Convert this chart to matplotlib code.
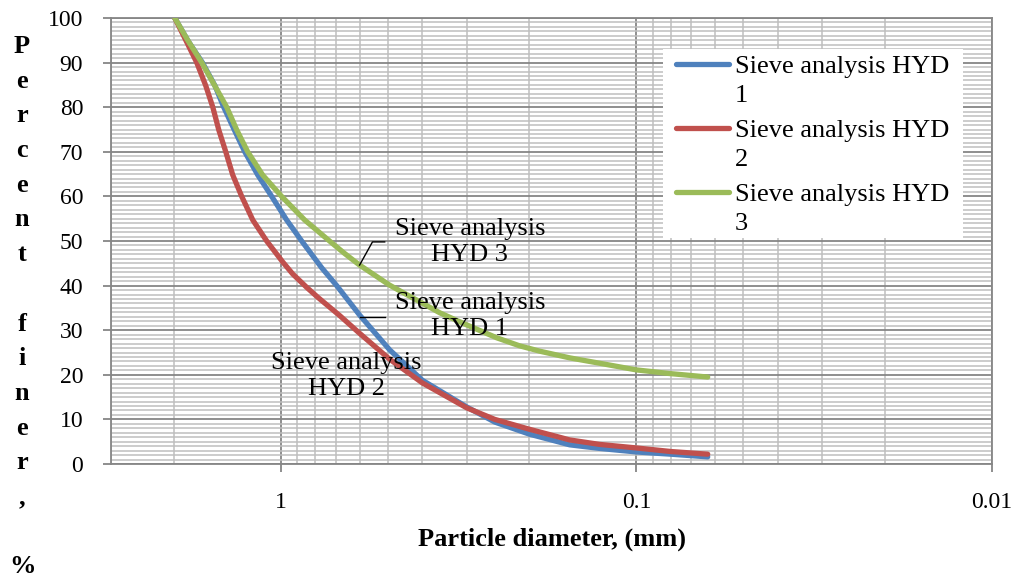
import matplotlib
matplotlib.use("Agg")
import matplotlib.pyplot as plt
from matplotlib.lines import Line2D
from matplotlib.patches import Rectangle
from matplotlib.ticker import MultipleLocator, FixedLocator, LogLocator, NullFormatter

plt.rcParams['font.family'] = ['Liberation Serif', 'DejaVu Serif']

# particle diameter (mm) and percent finer
d_hyd1 = [1.985, 1.82, 1.66, 1.53, 1.446, 1.35, 1.262, 1.160, 1.060, 0.962, 0.873, 0.767, 0.696,
          0.60, 0.494, 0.40, 0.30, 0.25, 0.20, 0.154, 0.127, 0.10, 0.08, 0.063]
p_hyd1 = [100, 94.8, 90, 84.8, 80, 74.9, 70, 64.8, 60, 54.7, 50, 44.0, 40,
          33.4, 25.6, 18.8, 12.8, 9.4, 6.7, 4.3, 3.5, 2.7, 2.2, 1.6]

d_hyd2 = [1.985, 1.837, 1.722, 1.624, 1.552, 1.493, 1.427, 1.364, 1.287, 1.198, 1.095, 0.987, 0.925,
          0.845, 0.787, 0.683, 0.60, 0.494, 0.40, 0.30, 0.25, 0.20, 0.154, 0.127, 0.10, 0.08, 0.063]
p_hyd2 = [100, 94.6, 90, 84.8, 80, 74.9, 70, 64.8, 60, 54.7, 50, 45.3, 42.6,
          39.6, 37.4, 33.3, 29.3, 23.5, 18.2, 12.6, 10.0, 7.8, 5.4, 4.4, 3.6, 2.8, 2.2]

d_hyd3 = [1.985, 1.825, 1.667, 1.532, 1.418, 1.329, 1.238, 1.124, 0.994, 0.856, 0.719, 0.661,
          0.60, 0.494, 0.357, 0.30, 0.247, 0.213, 0.187, 0.154, 0.127, 0.10, 0.081, 0.063]
p_hyd3 = [100, 95.0, 90, 84.8, 80, 74.9, 70, 64.8, 60, 54.7, 49.6, 47.2,
          44.6, 40.1, 33.9, 31.2, 28.3, 26.5, 25.3, 23.8, 22.6, 21.1, 20.3, 19.5]

series_names = ['Sieve analysis HYD\n1', 'Sieve analysis HYD\n2', 'Sieve analysis HYD\n3']
series_colors = ['#4F81BD', '#C0504D', '#9BBB59']
x_ticks = [1, 0.1, 0.01]
x_tick_labels = ['1', '0.1', '0.01']

W, H = 1023, 581
fig = plt.figure(figsize=(W / 100, H / 100), dpi=100)
ax = fig.add_axes([111 / W, 117 / H, 881 / W, 446 / H])


def px(x, y):
    # pixel position (from top left) -> figure fraction
    return x / W, 1 - y / H


ax.set_xscale('log')
ax.set_xlim(3.0, 0.01)
ax.set_ylim(0, 100)

# grid like the excel chart
ax.yaxis.set_major_locator(MultipleLocator(10))
ax.yaxis.set_minor_locator(MultipleLocator(1))
ax.xaxis.set_major_locator(FixedLocator(x_ticks))
ax.xaxis.set_minor_locator(LogLocator(base=10, subs=range(2, 10)))
ax.xaxis.set_minor_formatter(NullFormatter())
ax.set_xticklabels(x_tick_labels)

ax.grid(which='minor', color='#BEBEBE', linestyle='-', linewidth=1.1, zorder=0)
ax.grid(which='major', color='#868686', linestyle='-', linewidth=1.3, zorder=0)
ax.set_axisbelow(True)
for s in ax.spines.values():
    s.set_color('#868686')
    s.set_linewidth(1.3)

ax.tick_params(which='major', direction='out', length=6, width=1.3, color='#868686', labelsize=17)
ax.tick_params(axis='y', pad=14)
ax.tick_params(axis='x', pad=14)
ax.tick_params(which='minor', length=0)

for d, p, c in zip([d_hyd1, d_hyd2, d_hyd3], [p_hyd1, p_hyd2, p_hyd3], series_colors):
    ax.plot(d, p, color=c, linewidth=3.8, solid_capstyle='round', solid_joinstyle='round', zorder=3)

# data labels with leader lines
lbl = dict(ha='center', va='center', fontsize=19, linespacing=1.25, zorder=4)
ax.text(0.294, 49.8, 'Sieve analysis\nHYD 3', **lbl)
ax.plot([0.60, 0.552, 0.51], [44.6, 49.8, 49.8], color='black', linewidth=1, zorder=4)
ax.text(0.294, 33.2, 'Sieve analysis\nHYD 1', **lbl)
ax.plot([0.60, 0.51], [33.0, 33.0], color='black', linewidth=1, zorder=4)
ax.text(0.653, 19.7, 'Sieve analysis\nHYD 2', **lbl)

# legend box, drawn like excel's (handle beside the first line of a wrapped label)
x0, y0 = px(663, 238)
x1, y1 = px(963, 49)
fig.add_artist(Rectangle((x0, y0), x1 - x0, y1 - y0, transform=fig.transFigure,
                         facecolor='white', edgecolor='none', zorder=5))
for i, (name, c) in enumerate(zip(series_names, series_colors)):
    yh = 64 + i * 64
    xa, ya = px(676, yh)
    xb, _ = px(729, yh)
    fig.add_artist(Line2D([xa, xb], [ya, ya], transform=fig.transFigure, color=c,
                          linewidth=3.8, solid_capstyle='round', zorder=6))
    for j, part in enumerate(name.split('\n')):
        tx, ty = px(735, yh + 9 + j * 29)
        fig.text(tx, ty, part, ha='left', va='baseline', fontsize=19, zorder=6)

ax.set_xlabel('Particle diameter, (mm)', fontsize=19, fontweight='bold', labelpad=11)
fx, fy = px(22, 35)
fig.text(fx, fy, 'P\ne\nr\nc\ne\nn\nt\n\nf\ni\nn\ne\nr\n,\n\n%', ha='center', va='top',
         fontsize=19, fontweight='bold', linespacing=1.65)

fig.savefig('out.png', dpi=100)
